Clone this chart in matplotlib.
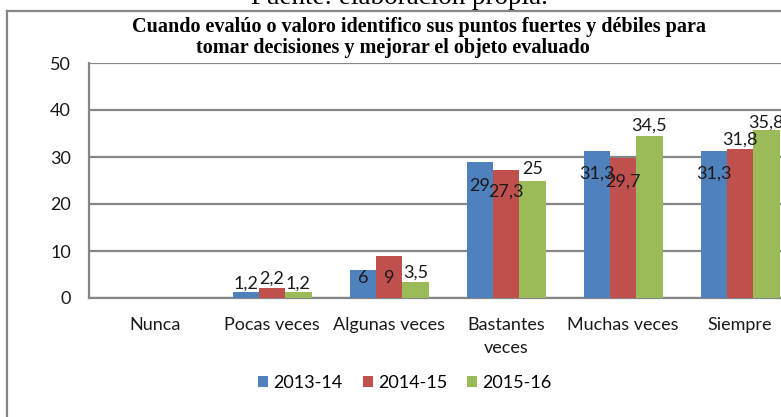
import matplotlib
matplotlib.use('Agg')

import numpy as np
import matplotlib.pyplot as plt
from matplotlib.patches import Patch
from matplotlib.lines import Line2D

# ---------------------------------------------------------------------------
# data
# ---------------------------------------------------------------------------
categories = ['Nunca', 'Pocas veces', 'Algunas veces', 'Bastantes\nveces',
              'Muchas veces', 'Siempre']
series_names = ['2013-14', '2014-15', '2015-16']
vals_1314 = [0, 1.2, 6, 29, 31.3, 31.3]
vals_1415 = [0, 2.2, 9, 27.3, 29.7, 31.8]
vals_1516 = [0, 1.2, 3.5, 25, 34.5, 35.8]
y_ticks = [0, 10, 20, 30, 40, 50]

title_1 = 'Cuando evalúo o valoro identifico sus puntos fuertes y débiles para'
title_2 = 'tomar decisiones y mejorar el objeto evaluado'
source_txt = 'Fuente: elaboración propia.'

# label offsets (pixels, relative to bar top) -- mimics excel "best fit"
label_dy = [
    [None, 9, -8, -24, -23, -23],
    [None, 9, -22, -22, -23, 9],
    [None, 9, 9, 11, 10, 7],
]

colors = ['#4F81BD', '#C0504D', '#9BBB59']
grid_col = '#868686'
txt_col = '#1a1a1a'

W, H = 781, 417
fig = plt.figure(figsize=(W / 100, H / 100), dpi=100)
fig.patch.set_facecolor('white')

sans = ['Lato', 'DejaVu Sans']
serif = ['Liberation Serif', 'DejaVu Serif']

# outer chart frame (left + top visible, rest cropped)
fig.add_artist(Line2D([7 / W, 7 / W], [0, 1 - 11 / H], transform=fig.transFigure,
                      color=grid_col, lw=1.6))
fig.add_artist(Line2D([7 / W, 1], [1 - 11 / H, 1 - 11 / H], transform=fig.transFigure,
                      color=grid_col, lw=1.6))

# source text cut at the top
fig.text(399 / W, 1 - 4.5 / H, source_txt, ha='center', va='baseline',
         family=serif, fontsize=19.5, color='black')

# title (two lines, excel centers them slightly differently)
fig.text(419 / W, 1 - 27 / H, title_1, ha='center', va='center',
         family=serif, fontsize=14.5, fontweight='bold', color='black')
fig.text(393 / W, 1 - 48 / H, title_2, ha='center', va='center',
         family=serif, fontsize=14.5, fontweight='bold', color='black')

# plot area
x0, x1 = 89, W
y_top, y_bot = 63, 298
ax = fig.add_axes([x0 / W, 1 - y_bot / H, (x1 - x0) / W, (y_bot - y_top) / H])
ax.set_facecolor('white')

x = np.arange(len(categories))
bw = 0.225
all_vals = [vals_1314, vals_1415, vals_1516]
for i, (vals, col, name) in enumerate(zip(all_vals, colors, series_names)):
    xs = x + (i - 1) * bw
    ax.bar(xs, vals, width=bw, color=col, label=name, zorder=3)
    for xi, v, dy in zip(xs, vals, label_dy[i]):
        if dy is None:
            continue
        ax.annotate(f'{v:g}'.replace('.', ','), (xi, v),
                    xytext=(0, dy * 0.72), textcoords='offset points',
                    ha='center', va='center', family=sans, fontsize=13,
                    color=txt_col, zorder=4)

ax.set_ylim(0, 50)
ax.set_yticks(y_ticks)
ax.set_xlim(-0.565, -0.565 + (x1 - x0) / 117)
ax.set_xticks(x)
ax.set_xticklabels(categories, family=sans, fontsize=13, color=txt_col,
                   linespacing=1.5, va='top')
ax.set_yticklabels([str(t) for t in y_ticks], family=sans, fontsize=13,
                   color=txt_col)
ax.tick_params(axis='x', length=0, pad=14)
ax.tick_params(axis='y', length=0, pad=13)
ax.yaxis.grid(True, color=grid_col, lw=1.6, zorder=0)
for s in ['top', 'right']:
    ax.spines[s].set_visible(False)
for s in ['left', 'bottom']:
    ax.spines[s].set_color(grid_col)
    ax.spines[s].set_linewidth(1.6)

handles = [Patch(facecolor=c, label=n) for c, n in zip(colors, series_names)]
fig.legend(handles=handles, loc='center', bbox_to_anchor=(405 / W, 1 - 383 / H),
           ncol=3, frameon=False, prop={'family': sans, 'size': 13},
           handlelength=0.55, handleheight=0.55, handletextpad=0.3,
           columnspacing=1.1)

fig.savefig('out.png', dpi=100)
